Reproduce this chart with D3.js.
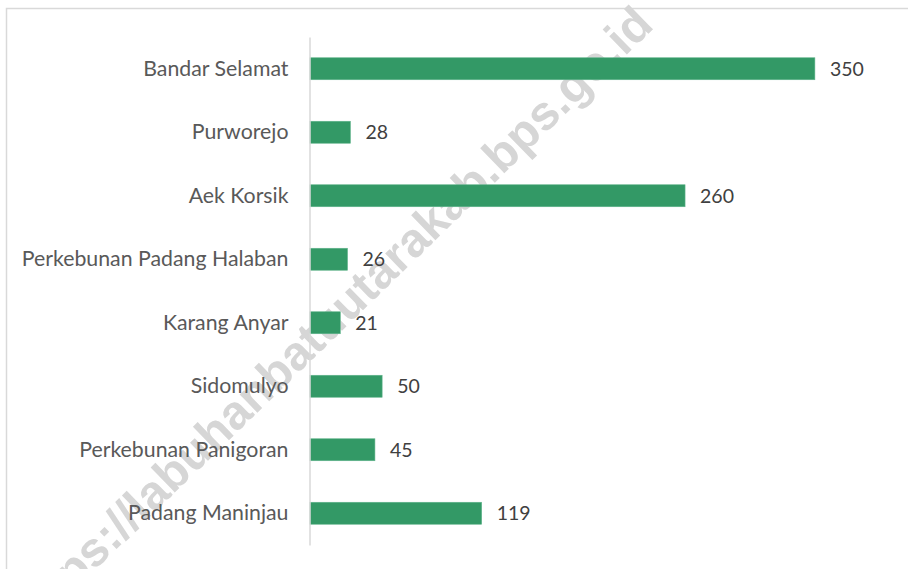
<!DOCTYPE html>
<html><head><meta charset="utf-8">
<script src="https://cdn.jsdelivr.net/npm/d3@7"></script>
<style>
html,body{margin:0;padding:0;background:#fff;}
svg{display:block;}
</style></head>
<body>
<script>
const categories = ["Bandar Selamat","Purworejo","Aek Korsik","Perkebunan Padang Halaban","Karang Anyar","Sidomulyo","Perkebunan Panigoran","Padang Maninjau"];
const values = [350,28,260,26,21,50,45,119];
const watermarkText = "https://labuhanbatuutarakab.bps.go.id";

const W = 908, H = 569;
const svg = d3.select("body").append("svg").attr("width", W).attr("height", H);

// chart border
svg.append("rect").attr("x",6.5).attr("y",8.5).attr("width",W+20).attr("height",H+20)
  .attr("fill","#fff").attr("stroke","#d9d9d9").attr("stroke-width",1.5);

// watermark (behind marks)
svg.append("text").text(watermarkText)
  .attr("transform","translate(29,634) rotate(-44.1)")
  .attr("text-anchor","start")
  .attr("font-family","'Liberation Sans', Arial, sans-serif").attr("font-weight","bold")
  .attr("font-size",48).attr("fill","#d6d6d6");

const x = d3.scaleLinear().domain([0,400]).range([310,887]);
const y = d3.scaleBand().domain(categories).range([37,545]).paddingInner(0.654).paddingOuter(0.327);

svg.selectAll("rect.bar").data(values).join("rect").attr("class","bar")
  .attr("x", x(0)).attr("y",(d,i)=>y(categories[i]))
  .attr("width", d=>x(d)-x(0)).attr("height", y.bandwidth())
  .attr("fill","#339966").attr("stroke","#5fb38a").attr("stroke-width",0.6);

const yAxis = d3.axisLeft(y).tickSize(0).tickPadding(21);
const gy = svg.append("g").attr("transform",`translate(${x(0)-0.5},0)`).call(yAxis);
gy.select(".domain").attr("stroke","#d9d9d9").attr("stroke-width",1.5);
gy.selectAll("text").attr("font-family","Lato, 'Noto Sans', sans-serif").attr("font-size",21.3).attr("fill","#595959");

svg.selectAll("text.val").data(values).join("text").attr("class","val")
  .attr("x", d=>x(d)+15).attr("y",(d,i)=>y(categories[i])+y.bandwidth()/2)
  .attr("dy","0.35em").text(d=>d)
  .attr("font-family","Lato, 'Noto Sans', sans-serif").attr("font-size",19.5).attr("fill","#404040");
</script>
</body></html>
